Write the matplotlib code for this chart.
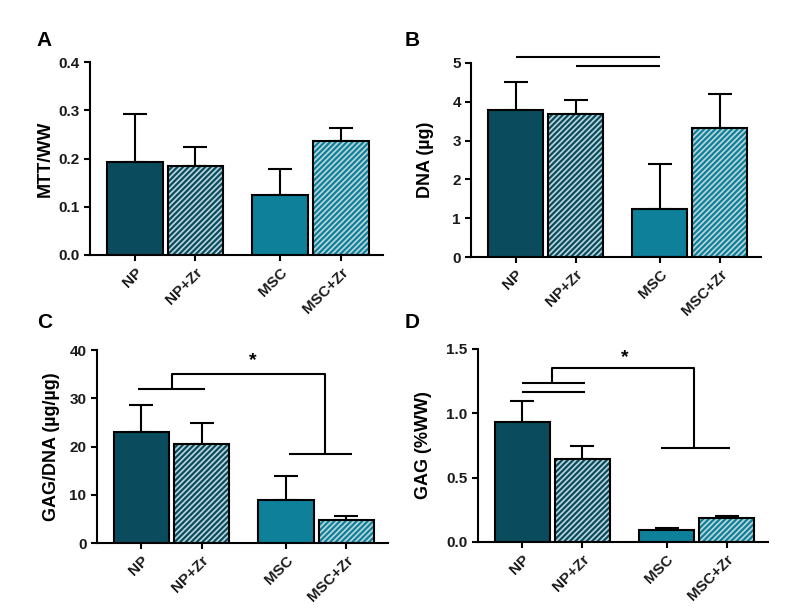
import numpy as np
import matplotlib
matplotlib.use('Agg')
from matplotlib import pyplot as plt

plt.rcParams['font.family'] = ['Liberation Sans', 'DejaVu Sans']
plt.rcParams['font.weight'] = 'bold'
plt.rcParams['hatch.linewidth'] = 1.6

groups = ['NP', 'NP+Zr', 'MSC', 'MSC+Zr']

mtt = [0.193, 0.185, 0.125, 0.236]
mtt_err = [0.100, 0.040, 0.053, 0.027]

dna = [3.78, 3.68, 1.25, 3.33]
dna_err = [0.72, 0.37, 1.15, 0.87]

gag_dna = [23.0, 20.5, 9.0, 4.8]
gag_dna_err = [5.6, 4.3, 5.0, 0.9]

gag_ww = [0.935, 0.645, 0.095, 0.185]
gag_ww_err = [0.160, 0.100, 0.010, 0.015]

dark = '#0a4c5e'
teal = '#0e8099'
light = '#bcd6dc'

xpos = np.array([0, 1, 2.4, 3.4])
W = 0.92


def draw(ax, vals, errs, ymax, yticks, ticklabels, ylabel, labx):
	ax.errorbar(xpos, vals, yerr=[np.zeros(4), errs], fmt='none', ecolor='black',
				elinewidth=1.5, capsize=8.5, capthick=1.5, zorder=1)
	ax.bar(xpos[0], vals[0], W, color=dark, edgecolor='black', linewidth=1.5, zorder=2)
	ax.bar(xpos[2], vals[2], W, color=teal, edgecolor='black', linewidth=1.5, zorder=2)
	ax.bar(xpos[1], vals[1], W, color=light, edgecolor=dark, hatch='//////', linewidth=0, zorder=2)
	ax.bar(xpos[3], vals[3], W, color=light, edgecolor=teal, hatch='//////', linewidth=0, zorder=2)
	ax.bar(xpos[[1, 3]], [vals[1], vals[3]], W, fill=False, edgecolor='black', linewidth=1.5, zorder=3)
	ax.set_xlim(-0.74, 4.09)
	ax.set_ylim(0, ymax)
	ax.set_yticks(yticks)
	ax.set_yticklabels(ticklabels, fontsize=11, fontweight='bold', color='#1a1a1a')
	ax.set_xticks(xpos)
	ax.set_xticklabels(groups, rotation=45, ha='right', rotation_mode='anchor',
					   fontsize=11, fontweight='bold', color='#1a1a1a')
	ax.set_ylabel(ylabel, fontsize=13, fontweight='bold')
	ax.yaxis.set_label_coords(labx, 0.5)
	for s in ['top', 'right']:
		ax.spines[s].set_visible(False)
	for s in ['left', 'bottom']:
		ax.spines[s].set_linewidth(1.5)
	ax.tick_params(width=1.5, length=4, direction='out')


def line(ax, xs, ys):
	ax.plot(xs, ys, color='black', lw=1.5, clip_on=False, solid_capstyle='butt')


fig = plt.figure(figsize=(8, 6.14), dpi=100)

axA = fig.add_axes([0.1125, 0.5847, 0.366, 0.314])
draw(axA, mtt, mtt_err, 0.4, [0, 0.1, 0.2, 0.3, 0.4],
	 ['0.0', '0.1', '0.2', '0.3', '0.4'], 'MTT/WW', -0.123)

axB = fig.add_axes([0.589, 0.5814, 0.3625, 0.316])
draw(axB, dna, dna_err, 5, [0, 1, 2, 3, 4, 5],
	 ['0', '1', '2', '3', '4', '5'], 'DNA (\u00b5g)', -0.128)
line(axB, [xpos[0], xpos[2]], [5.15, 5.15])
line(axB, [xpos[1], xpos[2]], [4.93, 4.93])

axC = fig.add_axes([0.121, 0.1156, 0.364, 0.314])
draw(axC, gag_dna, gag_dna_err, 40, [0, 10, 20, 30, 40],
	 ['0', '10', '20', '30', '40'], 'GAG/DNA (\u00b5g/\u00b5g)', -0.127)
midC = (xpos[0] + xpos[1]) / 2
line(axC, [xpos[0] - 0.05, xpos[1] + 0.05], [32, 32])
line(axC, [midC, midC, 3.05, 3.05], [32, 35, 35, 18.5])
line(axC, [xpos[2] + 0.05, xpos[3] + 0.1], [18.5, 18.5])
axC.text(1.85, 36, '*', ha='center', va='bottom', fontsize=14, fontweight='bold')

axD = fig.add_axes([0.5975, 0.1173, 0.3625, 0.3143])
draw(axD, gag_ww, gag_ww_err, 1.5, [0, 0.5, 1.0, 1.5],
	 ['0.0', '0.5', '1.0', '1.5'], 'GAG (%WW)', -0.159)
midD = (xpos[0] + xpos[1]) / 2
line(axD, [xpos[0], xpos[1] + 0.05], [1.235, 1.235])
line(axD, [xpos[0], xpos[1] + 0.05], [1.165, 1.165])
line(axD, [midD, midD, 2.85, 2.85], [1.235, 1.355, 1.355, 0.73])
line(axD, [2.3, 3.45], [0.73, 0.73])
axD.text(1.7, 1.37, '*', ha='center', va='bottom', fontsize=14, fontweight='bold')

fig.text(0.046, 0.925, 'A', fontsize=15, fontweight='bold')
fig.text(0.506, 0.925, 'B', fontsize=15, fontweight='bold')
fig.text(0.046, 0.465, 'C', fontsize=15, fontweight='bold')
fig.text(0.506, 0.465, 'D', fontsize=15, fontweight='bold')

fig.savefig('out.png', dpi=100, facecolor='white')
